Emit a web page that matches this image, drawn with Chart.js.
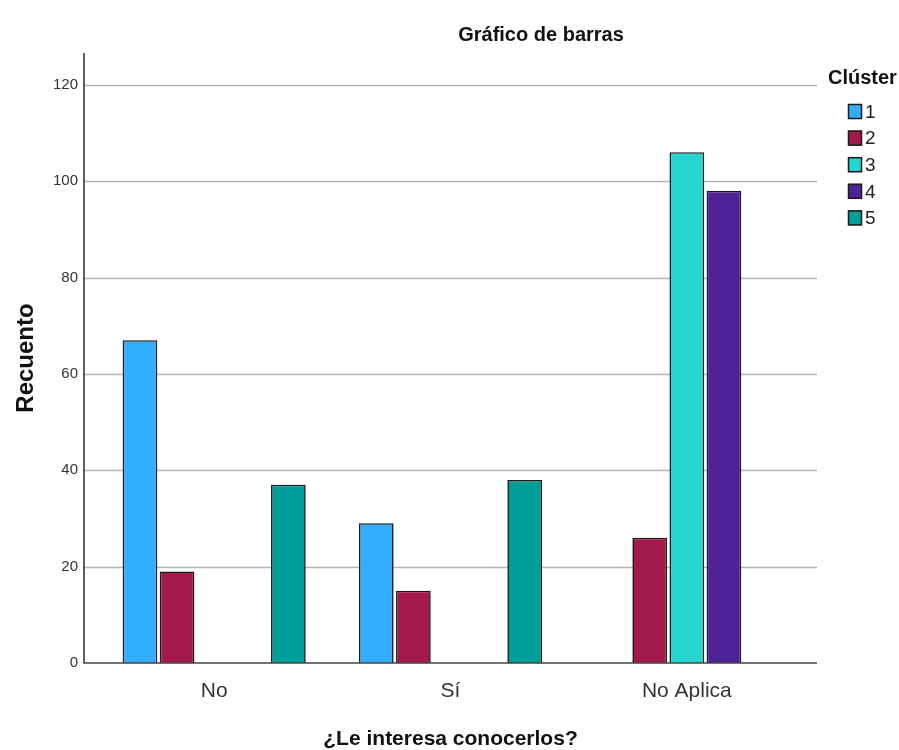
<!DOCTYPE html>
<html>
<head>
<meta charset="utf-8">
<script src="https://cdn.jsdelivr.net/npm/chart.js@4"></script>
<style>
  html, body { margin: 0; padding: 0; background: #ffffff; }
  #wrap { width: 899px; height: 750px; position: relative; }
</style>
</head>
<body>
<div id="wrap"><canvas id="c" width="899" height="750"></canvas></div>
<script>
// ---- data ----
const categories = ["No", "Sí", "No Aplica"];
const clusterLabels = ["1", "2", "3", "4", "5"];
const cluster1 = [67, 29, 0];
const cluster2 = [19, 15, 26];
const cluster3 = [0, 0, 106];
const cluster4 = [0, 0, 98];
const cluster5 = [37, 38, 0];
const yTicks = [0, 20, 40, 60, 80, 100, 120];

const seriesValues = [cluster1, cluster2, cluster3, cluster4, cluster5];
const colors = ["#33adff", "#a3194e", "#24d5d0", "#4f2196", "#009f9a"];

const FONT = "'Liberation Sans', Arial, sans-serif";

const datasets = seriesValues.map((vals, i) => ({
  label: clusterLabels[i],
  data: vals.map(v => (v === 0 ? null : v)),
  backgroundColor: colors[i],
  borderColor: "#1a1a1a",
  borderWidth: 1.6,
  barPercentage: 0.935,
  categoryPercentage: 0.785
}));

const EXT = 12; // axis extends past first/last category slot

const decor = {
  id: "decor",
  beforeDatasetsDraw(chart) {
    const { ctx, chartArea, scales } = chart;
    const y = scales.y;
    const L = chartArea.left - EXT, R = chartArea.right + EXT;
    ctx.save();
    ctx.strokeStyle = "#b5b5b5";
    ctx.lineWidth = 1.3;
    yTicks.forEach(t => {
      if (t === 0) return;
      const py = Math.round(y.getPixelForValue(t)) + 0.5;
      ctx.beginPath(); ctx.moveTo(L, py); ctx.lineTo(R, py); ctx.stroke();
    });
    ctx.restore();
  },
  afterDatasetsDraw(chart) {
    const { ctx, chartArea, scales } = chart;
    const y = scales.y;
    const L = chartArea.left - EXT, R = chartArea.right + EXT;
    const base = y.getPixelForValue(0);
    ctx.save();
    ctx.strokeStyle = "#444444";
    ctx.lineWidth = 1.7;
    ctx.beginPath(); ctx.moveTo(L, chartArea.top); ctx.lineTo(L, base); ctx.lineTo(R, base); ctx.stroke();
    // title
    ctx.fillStyle = "#111111";
    ctx.font = "bold 20px " + FONT;
    ctx.textAlign = "center"; ctx.textBaseline = "middle";
    ctx.fillText("Gráfico de barras", 541, 35);
    // legend
    ctx.textAlign = "left";
    ctx.fillText("Clúster", 828, 78);
    ctx.font = "19px " + FONT;
    chart.data.datasets.forEach((ds, i) => {
      const top = 104 + i * 26.6;
      ctx.fillStyle = ds.backgroundColor;
      ctx.fillRect(848, top, 14, 15);
      ctx.strokeStyle = "#1a1a1a"; ctx.lineWidth = 1.5;
      ctx.strokeRect(848.5, top + 0.5, 13, 14);
      ctx.fillStyle = "#222222";
      ctx.fillText(ds.label, 865, top + 8.5);
    });
    ctx.restore();
  }
};

new Chart(document.getElementById("c"), {
  type: "bar",
  data: { labels: categories, datasets },
  options: {
    responsive: false,
    animation: false,
    devicePixelRatio: 1,
    layout: { padding: { left: 0, right: 94, top: 53, bottom: 0 } },
    plugins: { legend: { display: false }, tooltip: { enabled: false }, title: { display: false } },
    scales: {
      x: {
        grid: { display: false, drawTicks: false, tickLength: 0 },
        border: { display: false },
        ticks: { color: "#333333", font: { family: FONT, size: 21 }, padding: 16 },
        title: { display: true, text: "¿Le interesa conocerlos?", color: "#111111",
                 font: { family: FONT, size: 21, weight: "bold", lineHeight: 1.05 }, padding: { top: 0, bottom: 0 } },
        afterFit(s) { s.height = 87; }
      },
      y: {
        min: 0, max: 126.6,
        afterBuildTicks(s) { s.ticks = yTicks.map(v => ({ value: v })); },
        grid: { display: false, drawTicks: false, tickLength: 0 },
        border: { display: false },
        ticks: { color: "#333333", font: { family: FONT, size: 15 }, padding: 18 },
        title: { display: true, text: "Recuento", color: "#111111",
                 font: { family: FONT, size: 24, weight: "bold" }, padding: { top: 12, bottom: 0 } },
        afterFit(s) { s.width = 96; }
      }
    }
  },
  plugins: [decor]
});
</script>
</body>
</html>
